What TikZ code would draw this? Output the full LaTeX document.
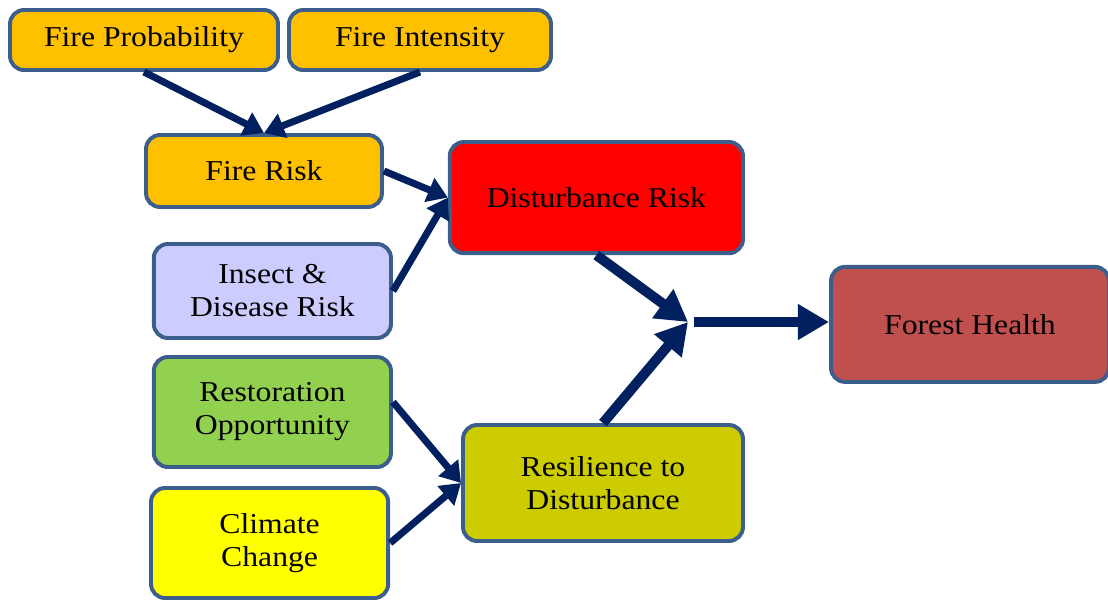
\documentclass[tikz,border=0pt]{standalone}
\usepackage{fontspec}
\setmainfont{Liberation Serif}[FakeStretch=1.1]
\usepackage{tikz}
\usetikzlibrary{positioning,arrows.meta}
\definecolor{ink}{HTML}{000000}
\definecolor{rim}{HTML}{3B5E8C}
\definecolor{cNavy}{HTML}{002060}
\definecolor{cAmber}{HTML}{FFC000}
\definecolor{cRed}{HTML}{FF0000}
\definecolor{cLilac}{HTML}{CCCCFF}
\definecolor{cLeaf}{HTML}{92D050}
\definecolor{cLemon}{HTML}{FFFF00}
\definecolor{cOlive}{HTML}{CCCC00}
\definecolor{cBrick}{HTML}{C0504D}
\tikzset{
  bx/.style={rectangle, rounded corners=10pt, draw=rim, line width=2.8pt, align=center, text=ink, inner sep=0pt, font=\fontsize{20.5}{23.5}\selectfont},
  ar/.style={-{Triangle[length=0.5cm, width=0.62cm]}, cNavy, line width=0.175cm},
  arbig/.style={-{Triangle[length=0.78cm, width=0.85cm]}, cNavy, line width=0.25cm},
}

\begin{document}
\begin{tikzpicture}
\useasboundingbox (0,0) rectangle (27.7,-15.025);
% boxes
\node[bx, fill=cAmber, minimum width=6.7cm, minimum height=1.5cm] (fireprob) at (3.6,-1.0) {Fire Probability};
\node[bx, fill=cAmber, minimum width=6.55cm, minimum height=1.5cm] (fireint) at (10.5,-1.0) {Fire Intensity};
\node[bx, fill=cAmber, minimum width=5.9cm, minimum height=1.8cm] (firerisk) at (6.6,-4.275) {Fire Risk};
\node[bx, fill=cRed, minimum width=7.33cm, minimum height=2.78cm] (disturb) at (14.91,-4.94) {Disturbance Risk};
\node[bx, fill=cLilac, minimum width=5.93cm, minimum height=2.35cm] (insect) at (6.81,-7.275) {Insect \&\\ Disease Risk};
\node[bx, fill=cLeaf, minimum width=5.93cm, minimum height=2.75cm] (restor) at (6.81,-10.3) {Restoration\\ Opportunity};
\node[bx, fill=cLemon, minimum width=5.93cm, minimum height=2.75cm] (climate) at (6.74,-13.575) {Climate\\ Change};
\node[bx, fill=cOlive, minimum width=7.0cm, minimum height=2.9cm] (resil) at (15.075,-12.075) {Resilience to\\ Disturbance};
\node[bx, fill=cBrick, minimum width=6.95cm, minimum height=2.875cm] (forest) at (24.25,-8.11) {Forest Health};
\coordinate (join) at (17.2,-8.05);
% connectors
\draw[ar] (fireprob.south) -- (firerisk.north);
\draw[ar] (fireint.south) -- (firerisk.north);
\draw[ar] (firerisk.east) -- (disturb.west);
\draw[ar] (insect.east) -- (disturb.west);
\draw[ar] ([yshift=0.25cm]restor.east) -- (resil.west);
\draw[ar] (climate.east) -- (resil.west);
\draw[arbig] (disturb.south) -- (join);
\draw[arbig] (resil.north) -- (join);
\draw[arbig] ([xshift=0.15cm]join) -- (join -| forest.west);
\end{tikzpicture}
\end{document}
